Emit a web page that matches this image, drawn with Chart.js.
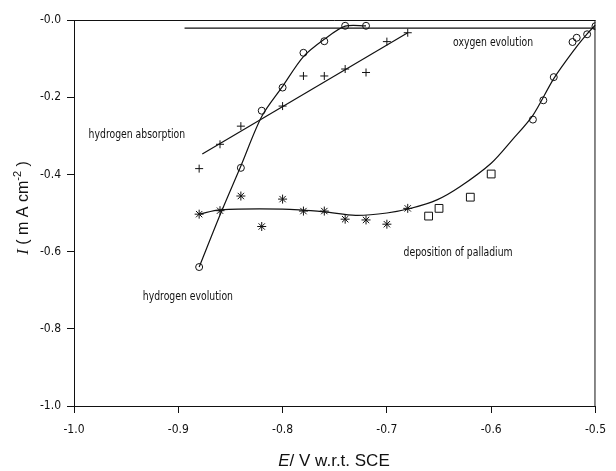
<!DOCTYPE html>
<html>
<head>
<meta charset="utf-8">
<script src="https://cdn.jsdelivr.net/npm/chart.js@4.4.1/dist/chart.umd.min.js"></script>
<style>
  html, body { margin: 0; padding: 0; background: #fff; }
  #wrap { width: 616px; height: 471px; position: relative; }
</style>
</head>
<body>
<div id="wrap"><canvas id="c" width="616" height="471"></canvas></div>
<script>
// Axis ticks (E in V vs SCE, I in mA cm^-2)
const eTicks = [-1.0, -0.9, -0.8, -0.7, -0.6, -0.5];
const eTickLabels = ['-1.0', '-0.9', '-0.8', '-0.7', '-0.6', '-0.5'];
const iTicks = [-1.0, -0.8, -0.6, -0.4, -0.2, 0.0];
const iTickLabels = ['-1.0', '-0.8', '-0.6', '-0.4', '-0.2', '-0.0'];

// Hydrogen evolution: measured points (circles) and fitted curve
const evoE = [-0.88, -0.84, -0.82, -0.80, -0.78, -0.76, -0.74, -0.72];
const evoI = [-0.64, -0.383, -0.235, -0.175, -0.085, -0.055, -0.015, -0.015];
const evoCurveE = [-0.88, -0.86, -0.84, -0.82, -0.80, -0.78, -0.76, -0.74, -0.72];
const evoCurveI = [-0.64, -0.505, -0.378, -0.25, -0.172, -0.095, -0.05, -0.016, -0.015];

// Hydrogen absorption: crosses and straight fit
const absE = [-0.88, -0.86, -0.84, -0.80, -0.78, -0.76, -0.74, -0.72, -0.70, -0.68];
const absI = [-0.385, -0.322, -0.275, -0.223, -0.145, -0.145, -0.127, -0.136, -0.056, -0.033];
const absFitE = [-0.877, -0.68];
const absFitI = [-0.347, -0.033];

// Deposition of palladium: asterisks and squares
const depE = [-0.88, -0.86, -0.84, -0.82, -0.80, -0.78, -0.76, -0.74, -0.72, -0.70, -0.68];
const depI = [-0.503, -0.494, -0.456, -0.535, -0.464, -0.495, -0.495, -0.516, -0.518, -0.529, -0.488];
const pdE = [-0.66, -0.65, -0.62, -0.60];
const pdI = [-0.508, -0.488, -0.459, -0.399];

// Oxygen evolution: circles on the anodic branch
const oxE = [-0.56, -0.55, -0.54, -0.522, -0.518, -0.508, -0.50];
const oxI = [-0.258, -0.208, -0.148, -0.057, -0.046, -0.037, -0.016];

// Curve through the deposition and oxygen evolution region
const depCurveE = [-0.88, -0.86, -0.80, -0.76, -0.73, -0.70, -0.676, -0.652, -0.63, -0.60, -0.58, -0.56, -0.54, -0.52, -0.508, -0.50];
const depCurveI = [-0.503, -0.492, -0.49, -0.497, -0.506, -0.50, -0.487, -0.466, -0.432, -0.371, -0.311, -0.247, -0.152, -0.076, -0.036, -0.013];

// Residual current baseline
const baseE = [-0.894, -0.50];
const baseI = [-0.021, -0.021];

// Region labels
const notes = [
  { text: 'oxygen evolution', e: -0.6365, i: -0.06 },
  { text: 'hydrogen absorption', e: -0.986, i: -0.298 },
  { text: 'deposition of palladium', e: -0.684, i: -0.604 },
  { text: 'hydrogen evolution', e: -0.934, i: -0.718 }
];

const pts = (xs, ys) => xs.map((x, k) => ({ x: x, y: ys[k] }));
const NARROW = '"Liberation Sans Narrow", "DejaVu Sans Condensed", "Liberation Sans", sans-serif';

const lineDs = (xs, ys, tension) => ({
  data: pts(xs, ys), showLine: true, pointRadius: 0, borderColor: '#111',
  borderWidth: 1.2, fill: false, tension: tension
});
const markDs = (xs, ys, style, r) => ({
  data: pts(xs, ys), showLine: false, pointStyle: style, pointRadius: r,
  pointBorderColor: '#111', pointBackgroundColor: 'rgba(0,0,0,0)', pointBorderWidth: 1
});

const framePlugin = {
  id: 'frame',
  afterDatasetsDraw(chart) {
    const { ctx, chartArea: a } = chart;
    ctx.save();
    ctx.strokeStyle = '#111';
    ctx.lineWidth = 1;
    ctx.beginPath();
    ctx.moveTo(a.left, a.top + 0.5);
    ctx.lineTo(a.right, a.top + 0.5);
    ctx.moveTo(a.right - 0.5, a.top);
    ctx.lineTo(a.right - 0.5, a.bottom);
    ctx.stroke();
    ctx.restore();
  }
};

const textPlugin = {
  id: 'texts',
  afterDraw(chart) {
    const { ctx } = chart;
    const xs = chart.scales.x, ys = chart.scales.y;
    ctx.save();
    ctx.fillStyle = '#111';
    ctx.textBaseline = 'middle';
    ctx.textAlign = 'left';
    ctx.font = '12px ' + NARROW;
    notes.forEach(n => {
      ctx.save();
      ctx.translate(xs.getPixelForValue(n.e), ys.getPixelForValue(n.i));
      ctx.scale(0.86, 1);
      ctx.fillText(n.text, 0, 0);
      ctx.restore();
    });

    // Run of text pieces with their own fonts and vertical shifts
    const run = (parts, cx, cy) => {
      let w = 0;
      parts.forEach(p => { ctx.font = p.font; w += ctx.measureText(p.t).width; });
      let x = cx - w / 2;
      parts.forEach(p => {
        ctx.font = p.font;
        ctx.fillText(p.t, x, cy + (p.dy || 0));
        x += ctx.measureText(p.t).width;
      });
    };
    ctx.textBaseline = 'alphabetic';
    run([
      { t: 'E', font: 'italic 17px "Liberation Sans", sans-serif' },
      { t: '/ V w.r.t. SCE', font: '17px "Liberation Sans", sans-serif' }
    ], 334, 466);

    ctx.translate(28, 208);
    ctx.rotate(-Math.PI / 2);
    run([
      { t: 'I', font: 'italic 17px "Liberation Serif", serif' },
      { t: ' ( m A cm', font: '16px "Liberation Sans", sans-serif' },
      { t: '-2', font: '11px "Liberation Sans", sans-serif', dy: -7 },
      { t: ' )', font: '16px "Liberation Sans", sans-serif' }
    ], 0, 0);
    ctx.restore();
  }
};

const axisGrid = { drawOnChartArea: false, drawTicks: true, tickLength: 7, color: '#111', lineWidth: 1 };

new Chart(document.getElementById('c'), {
  type: 'scatter',
  data: {
    datasets: [
      lineDs(baseE, baseI, 0),
      lineDs(evoCurveE, evoCurveI, 0.3),
      lineDs(absFitE, absFitI, 0),
      lineDs(depCurveE, depCurveI, 0.3),
      markDs(evoE, evoI, 'circle', 3.5),
      markDs(absE, absI, 'cross', 4),
      markDs(depE, depI, 'star', 4.5),
      markDs(pdE, pdI, 'rect', 5.5),
      markDs(oxE, oxI, 'circle', 3.5)
    ]
  },
  options: {
    responsive: false,
    animation: false,
    layout: { padding: { left: 0, right: 11, top: 20, bottom: 0 } },
    plugins: { legend: { display: false }, tooltip: { enabled: false } },
    scales: {
      x: {
        type: 'linear', min: -1.0, max: -0.5,
        afterBuildTicks: s => { s.ticks = eTicks.map(v => ({ value: v })); },
        afterFit: s => { s.height = 65; },
        grid: axisGrid,
        border: { display: true, color: '#111', width: 1 },
        ticks: {
          padding: 10, color: '#111', font: { family: NARROW, size: 12 },
          callback: (v, k) => eTickLabels[k]
        }
      },
      y: {
        type: 'linear', min: -1.0, max: 0.0,
        afterBuildTicks: s => { s.ticks = iTicks.map(v => ({ value: v })); },
        afterFit: s => { s.width = 74; },
        grid: axisGrid,
        border: { display: true, color: '#111', width: 1 },
        ticks: {
          padding: 6, color: '#111', font: { family: NARROW, size: 12 },
          callback: (v, k) => iTickLabels[k]
        }
      }
    }
  },
  plugins: [framePlugin, textPlugin]
});
</script>
</body>
</html>
